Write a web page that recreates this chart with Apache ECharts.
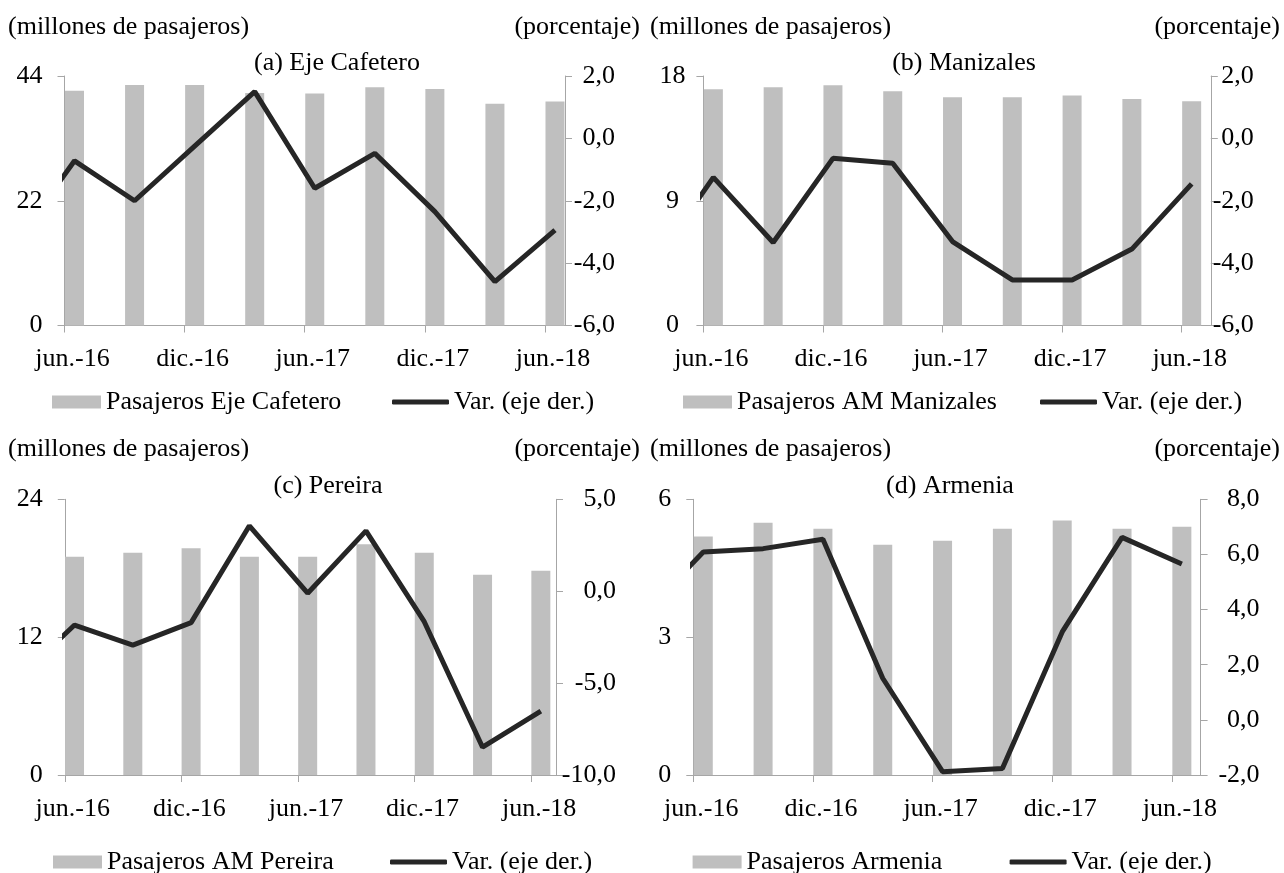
<!DOCTYPE html>
<html>
<head>
<meta charset="utf-8">
<script src="https://cdn.jsdelivr.net/npm/echarts@6/dist/echarts.min.js"></script>
<style>
html,body{margin:0;padding:0;background:#fff;}
#chart{width:1284px;height:873px;}
</style>
</head>
<body>
<div id="chart"></div>
<script>
// ---- data (quarterly) ----
const quarters = ['mar.-16','jun.-16','sep.-16','dic.-16','mar.-17','jun.-17','sep.-17','dic.-17','mar.-18','jun.-18'];
const tickLabels = ['jun.-16','dic.-16','jun.-17','dic.-17','jun.-18'];
const tickMonths = [0, 6, 12, 18, 24];

// bars: jun.-16 .. jun.-18 (millones de pasajeros)
const ejeBars  = [41.4, 42.4, 42.4, 41.0, 40.9, 42.0, 41.7, 39.1, 39.5];
const maniBars = [17.04, 17.19, 17.33, 16.9, 16.46, 16.46, 16.6, 16.34, 16.18];
const pereBars = [19.0, 19.35, 19.73, 19.0, 19.0, 20.08, 19.35, 17.43, 17.78];
const armeBars = [5.19, 5.49, 5.36, 5.01, 5.10, 5.36, 5.54, 5.36, 5.40];

// variation: mar.-16 .. jun.-18 (porcentaje)
const ejeVar  = [-3.4, -0.72, -2.0, -0.25, 1.5, -1.6, -0.48, -2.35, -4.59, -2.94];
const maniVar = [-4.0, -1.25, -3.34, -0.64, -0.8, -3.31, -4.54, -4.54, -3.55, -1.46];
const pereVar = [-4.85, -1.84, -2.93, -1.71, 3.56, -0.11, 3.28, -1.66, -8.49, -6.52];
const armeVar = [3.83, 6.09, 6.21, 6.55, 1.51, -1.88, -1.76, 3.19, 6.62, 5.65];

const panels = [
  {title:'(a) Eje Cafetero', barName:'Pasajeros Eje Cafetero', bars:ejeBars, vari:ejeVar,
   lmin:0,lmax:44,lint:22, rmin:-6,rmax:2,rint:2,
   grid:{left:64.5,top:76,width:500.5,height:249.5}, xmax:25.0,
   lAlign:'right', lMargin:22, rMargin:50,
   header:{l:8,r:640,y:27}, titleX:337, titleY:63,
   legend:{bar:52,line:392,y:402}},
  {title:'(b) Manizales', barName:'Pasajeros AM Manizales', bars:maniBars, vari:maniVar,
   lmin:0,lmax:18,lint:9, rmin:-6,rmax:2,rint:2,
   grid:{left:703.4,top:76,width:507.4,height:249.5}, xmax:25.46,
   lAlign:'center', lMargin:31, rMargin:43,
   header:{l:650,r:1280,y:27}, titleX:964, titleY:63,
   legend:{bar:683,line:1040,y:402}},
  {title:'(c) Pereira', barName:'Pasajeros AM Pereira', bars:pereBars, vari:pereVar,
   lmin:0,lmax:24,lint:12, rmin:-10,rmax:5,rint:5,
   grid:{left:64.8,top:499.3,width:491.2,height:275.7}, xmax:25.28,
   lAlign:'right', lMargin:22, rMargin:60,
   header:{l:8,r:640,y:449}, titleX:328, titleY:486,
   legend:{bar:53,line:390,y:862}},
  {title:'(d) Armenia', barName:'Pasajeros Armenia', bars:armeBars, vari:armeVar,
   lmin:0,lmax:6,lint:3, rmin:-2,rmax:8,rint:2,
   grid:{left:693.3,top:499.3,width:507.3,height:275.7}, xmax:25.44,
   lAlign:'right', lMargin:22, rMargin:59,
   header:{l:650,r:1280,y:449}, titleX:950, titleY:486,
   legend:{bar:692.6,line:1009.6,y:862}}
];

const FONT = 'Liberation Serif';
const FS = 26;
const FONTSTR = `${FS}px "Liberation Serif"`;
const AXIS_COLOR = '#a6a6a6';
const BAR_COLOR = '#bfbfbf';
const LINE_COLOR = '#262626';

// month offset of each quarter relative to jun.-16 (slot centre)
const quarterPos = quarters.map((q, i) => (i - 1) * 3 + 0.5);

const grids = [], xAxes = [], yAxes = [], series = [], legends = [], graphics = [];
const fmtPct = v => v.toFixed(1).replace('.', ',');

panels.forEach((p, i) => {
  grids.push(Object.assign({containLabel:false}, p.grid));
  xAxes.push({
    type:'value', gridIndex:i, min:0, max:p.xmax, interval:6,
    axisLine:{show:true, onZero:false, lineStyle:{color:AXIS_COLOR, width:1}},
    axisTick:{show:true, length:7, customValues:tickMonths, lineStyle:{color:AXIS_COLOR}},
    axisLabel:{show:true, customValues:tickMonths, margin:21, color:'#000', fontFamily:FONT, fontSize:FS,
      padding:[0,0,0,16],
      formatter: v => { const k = tickMonths.indexOf(Math.round(v)); return k >= 0 ? tickLabels[k] : ''; }},
    splitLine:{show:false}
  });
  yAxes.push({
    type:'value', gridIndex:i, position:'left', min:p.lmin, max:p.lmax, interval:p.lint,
    axisLine:{show:true, lineStyle:{color:AXIS_COLOR, width:1}},
    axisTick:{show:true, length:7, lineStyle:{color:AXIS_COLOR}},
    axisLabel:{color:'#000', fontFamily:FONT, fontSize:FS, margin:p.lMargin, align:p.lAlign, padding:[3,0,0,0]},
    splitLine:{show:false}
  });
  yAxes.push({
    type:'value', gridIndex:i, position:'right', min:p.rmin, max:p.rmax, interval:p.rint,
    axisLine:{show:true, lineStyle:{color:AXIS_COLOR, width:1}},
    axisTick:{show:true, length:7, lineStyle:{color:AXIS_COLOR}},
    axisLabel:{color:'#000', fontFamily:FONT, fontSize:FS, margin:p.rMargin, align:'right', padding:[3,0,0,0], formatter:fmtPct},
    splitLine:{show:false}
  });
  series.push({
    name:p.barName, type:'bar', xAxisIndex:i, yAxisIndex:2*i, barWidth:19,
    itemStyle:{color:BAR_COLOR}, color:BAR_COLOR, silent:true,
    data:p.bars.map((v, k) => [quarterPos[k + 1], v])
  });
  series.push({
    name:'Var. (eje der.)', type:'line', xAxisIndex:i, yAxisIndex:2*i+1, symbol:'none', clip:true,
    lineStyle:{color:LINE_COLOR, width:5}, itemStyle:{color:LINE_COLOR}, color:LINE_COLOR, silent:true,
    data:p.vari.map((v, k) => [quarterPos[k], v])
  });
  legends.push({
    data:[p.barName], left:p.legend.bar, top:p.legend.y - 13, padding:0, icon:'rect',
    itemWidth:49, itemHeight:13, selectedMode:false,
    textStyle:{color:'#000', fontFamily:FONT, fontSize:FS}
  });
  legends.push({
    data:['Var. (eje der.)'], left:p.legend.line, top:p.legend.y - 13, padding:0, icon:'roundRect',
    itemWidth:57, itemHeight:5, selectedMode:false,
    itemStyle:{color:LINE_COLOR},
    textStyle:{color:'#000', fontFamily:FONT, fontSize:FS}
  });
  graphics.push({type:'text', left:p.header.l, top:p.header.y - 13,
    style:{text:'(millones de pasajeros)', font:FONTSTR, fill:'#000'}});
  graphics.push({type:'text', right:1284 - p.header.r, top:p.header.y - 13,
    style:{text:'(porcentaje)', font:FONTSTR, fill:'#000'}});
  graphics.push({type:'text', x:p.titleX, y:p.titleY,
    style:{text:p.title, font:FONTSTR, fill:'#000', textAlign:'center', textVerticalAlign:'middle'}});
});

const chart = echarts.init(document.getElementById('chart'), null, {renderer:'canvas'});
chart.setOption({
  animation:false,
  backgroundColor:'#fff',
  grid:grids, xAxis:xAxes, yAxis:yAxes, series:series, legend:legends, graphic:graphics
});
</script>
</body>
</html>
